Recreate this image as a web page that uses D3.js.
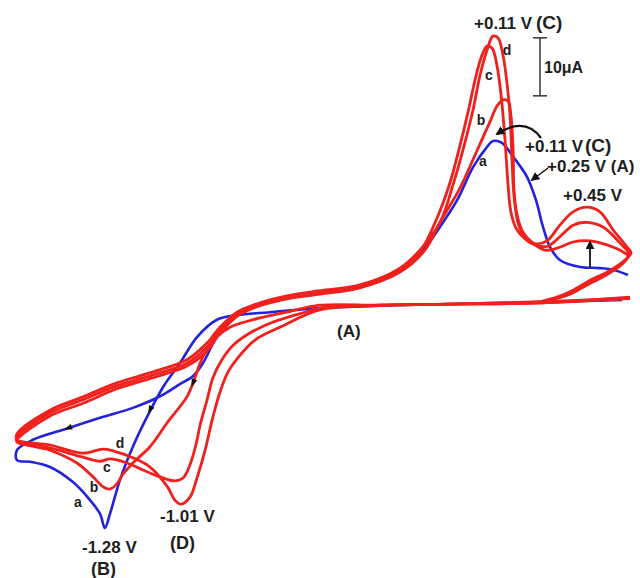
<!DOCTYPE html>
<html>
<head>
<meta charset="utf-8">
<script src="https://cdn.jsdelivr.net/npm/d3@7"></script>
<style>
  body { margin: 0; background: #fff; }
  svg { display: block; }
  text { font-family: "Liberation Sans", Arial, sans-serif; font-weight: bold; fill: #1e1e1e; }
</style>
</head>
<body>
<div id="chart"></div>
<script>
// potential (V) vs current (uA); cycle a = blue, b..d = red
const cycleA = [[0.568,0],[0.321,-0.3],[-0.046,-0.7],[-0.296,-1.0],[-0.511,-1.4],[-0.689,-2.1],[-0.807,-2.6],[-0.879,-3.4],
  [-0.95,-6.4],[-1.011,-10.9],[-1.071,-15.0],[-1.129,-20.2],[-1.179,-25.3],[-1.225,-31.0],[-1.261,-36.9],[-1.279,-39.3],
  [-1.296,-36.9],[-1.332,-34.5],[-1.393,-31.4],[-1.475,-28.8],[-1.546,-27.9],[-1.593,-27.6],[-1.593,-25.9],[-1.536,-24.1],
  [-1.411,-22.1],[-1.296,-20.3],[-1.179,-18.6],[-1.082,-16.6],[-1.011,-14.5],[-0.964,-13.1],[-0.929,-10.9],[-0.896,-7.8],
  [-0.861,-4.8],[-0.814,-2.8],[-0.75,-1.2],[-0.629,0.3],[-0.511,1.2],[-0.368,2.2],[-0.261,4.3],[-0.189,6.6],[-0.136,9.0],
  [-0.082,12.6],[-0.021,17.2],[0.036,22.9],[0.086,26.4],[0.107,27.4],[0.139,27.1],[0.179,24.7],[0.229,21.2],[0.262,17.0],
  [0.284,12.9],[0.311,9.1],[0.346,6.9],[0.418,5.7],[0.489,5.5],[0.536,5.2],[0.589,4.3]];

const cycleB = [[0.596,0.5],[0.275,-0.5],[-0.046,-0.7],[-0.296,-0.9],[-0.511,-0.9],[-0.629,-2.1],[-0.75,-3.4],[-0.832,-4.7],
  [-0.879,-6.4],[-0.929,-9.8],[-0.964,-14.3],[-0.986,-16.7],[-1.057,-21.2],[-1.118,-25.3],[-1.179,-28.1],[-1.214,-30.0],
  [-1.236,-31.7],[-1.261,-32.6],[-1.286,-32.2],[-1.321,-30.5],[-1.379,-28.1],[-1.475,-25.9],[-1.593,-24.5],[-1.593,-24.1],
  [-1.475,-20.0],[-1.357,-17.8],[-1.236,-15.3],[-1.107,-13.4],[-0.986,-11.4],[-0.914,-8.8],[-0.868,-5.7],[-0.807,-2.8],
  [-0.75,-1.4],[-0.629,0.2],[-0.511,1.0],[-0.368,2.1],[-0.225,4.8],[-0.136,8.6],[-0.082,13.4],[-0.011,19.3],[0.043,25.0],
  [0.096,30.7],[0.121,33.4],[0.143,34.5],[0.161,34.3],[0.171,31.9],[0.179,25.9],[0.182,19.0],[0.193,14.7],[0.214,11.7],
  [0.25,9.8],[0.293,8.6],[0.346,9.1],[0.393,10.0],[0.454,10.2],[0.514,9.5],[0.571,8.3],[0.589,7.6],[0.561,5.9],
  [0.504,4.1],[0.443,2.6],[0.382,1.0],[0.329,0.2],[0.275,-0.5]];

const cycleC = [[0.596,0.3],[0.275,-0.5],[-0.046,-0.7],[-0.296,-0.9],[-0.511,-1.4],[-0.571,-2.2],[-0.689,-4.0],[-0.761,-5.7],
  [-0.821,-7.8],[-0.861,-10.3],[-0.893,-13.4],[-0.914,-17.2],[-0.939,-21.6],[-0.954,-25.0],[-0.975,-28.4],[-1.0,-30.7],
  [-1.029,-31.2],[-1.082,-30.5],[-1.143,-29.3],[-1.2,-28.1],[-1.261,-27.4],[-1.296,-27.8],[-1.357,-27.1],[-1.475,-25.5],
  [-1.593,-24.3],[-1.593,-23.6],[-1.475,-19.5],[-1.357,-17.2],[-1.236,-14.8],[-1.107,-12.9],[-0.986,-10.9],[-0.914,-8.1],
  [-0.868,-5.2],[-0.807,-2.4],[-0.75,-1.0],[-0.629,0.3],[-0.511,1.2],[-0.368,2.2],[-0.225,5.2],[-0.154,8.3],[-0.093,14.1],
  [-0.046,20.3],[-0.011,26.6],[0.018,32.4],[0.043,37.9],[0.064,41.7],[0.086,43.8],[0.104,43.4],[0.121,40.5],[0.136,35.3],
  [0.15,27.6],[0.161,19.8],[0.171,15.2],[0.189,12.4],[0.218,10.7],[0.257,9.5],[0.304,9.3],[0.346,10.9],[0.393,12.9],
  [0.443,13.4],[0.5,12.6],[0.561,9.8],[0.593,7.9],[0.568,6.2],[0.511,4.5],[0.45,3.1],[0.389,1.4],[0.332,0.3],[0.275,-0.5]];

const cycleD = [[0.596,0.3],[0.275,-0.3],[-0.046,-0.7],[-0.296,-0.9],[-0.511,-1.7],[-0.654,-4.7],[-0.743,-6.9],[-0.796,-9.5],
  [-0.839,-12.4],[-0.868,-15.9],[-0.896,-20.7],[-0.921,-25.9],[-0.95,-30.7],[-0.975,-34.0],[-1.007,-35.2],[-1.029,-34.5],
  [-1.057,-32.1],[-1.118,-28.8],[-1.179,-27.2],[-1.25,-26.0],[-1.286,-25.7],[-1.357,-26.4],[-1.475,-25.0],[-1.593,-24.1],
  [-1.593,-23.1],[-1.475,-19.0],[-1.357,-16.7],[-1.236,-14.3],[-1.107,-12.4],[-0.986,-10.3],[-0.914,-7.4],[-0.868,-4.7],
  [-0.807,-2.1],[-0.75,-0.9],[-0.629,0.7],[-0.511,1.6],[-0.368,2.6],[-0.225,5.5],[-0.154,8.6],[-0.082,13.4],[-0.036,19.8],
  [0.0,25.9],[0.036,32.8],[0.061,38.8],[0.086,43.1],[0.107,45.5],[0.125,45.2],[0.143,42.2],[0.157,37.4],[0.168,31.9],
  [0.175,24.1],[0.182,18.1],[0.196,13.4],[0.221,10.7],[0.257,9.7],[0.3,10.2],[0.346,12.9],[0.393,15.2],[0.443,16.0],
  [0.489,15.2],[0.536,12.1],[0.586,9.1],[0.6,8.1],[0.571,6.6],[0.514,4.8],[0.454,3.4],[0.393,1.7],[0.336,0.5],[0.275,-0.3]];

const cycles = [
  {name:'a', pts:cycleA, color:'#2323dc', sw:2.6},
  {name:'b', pts:cycleB, color:'#f0201c', sw:2.8},
  {name:'c', pts:cycleC, color:'#f0201c', sw:2.8},
  {name:'d', pts:cycleD, color:'#f0201c', sw:2.8}
];

const scaleBarUA = [45.2, 35.2];   // 10 uA bar

let w=640, h=578;
let x=d3.scaleLinear().domain([-1.6,0.6]).range([15,631]);
let y=d3.scaleLinear().domain([-48,52]).range([578.4,-1.6]);

let svg=d3.select('#chart').append('svg').attr('width',w).attr('height',h);
svg.append('rect').attr('width',w).attr('height',h).attr('fill','#fff');

let defs=svg.append('defs');
defs.append('marker').attr('id','head').attr('viewBox','0 0 10 10')
  .attr('refX',8).attr('refY',5).attr('markerWidth',9).attr('markerHeight',9)
  .attr('markerUnits','userSpaceOnUse').attr('orient','auto')
  .append('path').attr('d','M0,0 L10,5 L0,10 z').attr('fill','#111');

let line=d3.line().x(d=>x(d[0])).y(d=>y(d[1])).curve(d3.curveCatmullRom.alpha(0.5));

svg.selectAll('.cv').data(cycles).enter().append('path')
  .attr('class','cv')
  .attr('d',d=>line(d.pts))
  .attr('fill','none')
  .attr('stroke',d=>d.color)
  .attr('stroke-width',d=>d.sw)
  .attr('stroke-linejoin','round');

// scale bar
let bx=x(0.275);
svg.append('line').attr('x1',bx).attr('x2',bx).attr('y1',y(scaleBarUA[0])).attr('y2',y(scaleBarUA[1])).attr('stroke','#333').attr('stroke-width',1.5);
scaleBarUA.forEach(v=>{
  svg.append('line').attr('x1',bx-7).attr('x2',bx+7).attr('y1',y(v)).attr('y2',y(v)).attr('stroke','#333').attr('stroke-width',1.5);
});
svg.append('text').attr('x',bx+4).attr('y',73).style('font-size','16px').text('10\u03bcA');

// text labels
const labels = [
  {t:'+0.11 V', x:474, y:29, s:17},
  {t:'(C)', x:536, y:29, s:19},
  {t:'+0.11 V', x:525, y:152, s:17},
  {t:'(C)', x:585, y:152, s:19},
  {t:'+0.25 V (A)', x:547, y:172, s:17},
  {t:'+0.45 V', x:563, y:201, s:17},
  {t:'(A)', x:337, y:337, s:17},
  {t:'-1.28 V', x:82, y:553, s:17},
  {t:'(B)', x:91, y:575, s:18},
  {t:'-1.01 V', x:160, y:522, s:17},
  {t:'(D)', x:170, y:549, s:18}
];
svg.selectAll('.lab').data(labels).enter().append('text').attr('class','lab')
  .attr('x',d=>d.x).attr('y',d=>d.y).style('font-size',d=>d.s+'px').text(d=>d.t);

const letters = [
  {t:'d', x:507, y:55}, {t:'c', x:489, y:80}, {t:'b', x:481, y:125}, {t:'a', x:483, y:166},
  {t:'a', x:78, y:507}, {t:'b', x:94, y:492}, {t:'c', x:107, y:472}, {t:'d', x:120, y:448}
];
svg.selectAll('.let').data(letters).enter().append('text').attr('class','let')
  .attr('x',d=>d.x).attr('y',d=>d.y).attr('text-anchor','middle').style('font-size','14px').text(d=>d.t);

// arrows
svg.append('path').attr('d','M541,138 Q525,116 497,134').attr('fill','none').attr('stroke','#111').attr('stroke-width',2.2).attr('marker-end','url(#head)');
svg.append('line').attr('x1',548).attr('y1',168).attr('x2',532).attr('y2',180).attr('stroke','#111').attr('stroke-width',1.5).attr('marker-end','url(#head)');
svg.append('line').attr('x1',590).attr('y1',267).attr('x2',590).attr('y2',242).attr('stroke','#111').attr('stroke-width',1.8).attr('marker-end','url(#head)');

// small direction heads on the scans
const heads = [{x:68,y:428,a:162},{x:150,y:410,a:117},{x:193,y:383,a:112}];
svg.selectAll('.dir').data(heads).enter().append('path').attr('class','dir')
  .attr('d','M4,0 L-4,-3 L-4,3 z')
  .attr('transform',d=>'translate('+d.x+','+d.y+') rotate('+d.a+')')
  .attr('fill','#111');
</script>
</body>
</html>
